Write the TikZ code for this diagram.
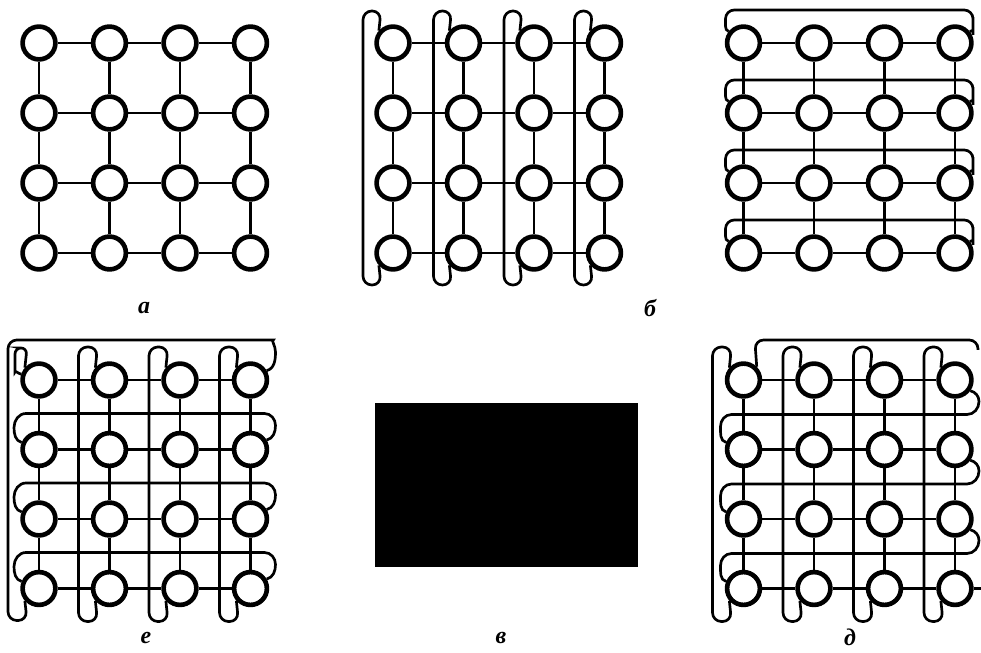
\documentclass[tikz,border=0pt]{standalone}
\usepackage{fontspec}
\setmainfont{Liberation Serif}
\usetikzlibrary{calc}

\begin{document}
\begin{tikzpicture}[
  x=0.025cm, y=0.025cm,
  cell/.style={draw, circle, line width=3.3pt, minimum size=0.82cm, inner sep=0pt},
  link/.style={line width=1.9pt},
  wire/.style={line width=1.9pt},
  tag/.style={font=\fontsize{17}{20}\selectfont\bfseries\itshape, inner sep=0pt}
]
\useasboundingbox (0,0) rectangle (981,652);
\foreach \p/\xo/\yo/\dy in {a/39/609/70, b/393/609/70, c/743.5/609/70, e/39/272/69.5, d/743.5/272/69.5} {
  \foreach \r in {0,...,3}
    \foreach \c in {0,...,3}
      \node[cell] (\p\r\c) at (\xo+70.5*\c, \yo-\dy*\r) {};
}
\foreach \p in {a,b,c,e,d}
  \foreach \r [count=\rn from 1] in {0,1,2}
    \foreach \c in {0,...,3} {
      \draw[link] (\p\r\c) -- (\p\rn\c);
      \draw[link] (\p\c\r) -- (\p\c\rn);
    }
\foreach \p/\h/\v/\cols in {b/32/30/{0,1,2,3}, d/33/31/{0,1,2,3}, e/33/31/{1,2,3}}
  \foreach \c in \cols
    \draw[wire, rounded corners=0.22cm] (\p0\c.139) -- ($(\p0\c)+(-12,\h)$) -- ($(\p0\c)+(-\v,\h)$)
      -- ($(\p3\c)+(-\v,-\h)$) -- ($(\p3\c)+(-12,-\h)$) -- (\p3\c.221);
\foreach \r in {0,...,3}
  \draw[wire] (c\r0.142) to[out=170,in=-90] ($(c\r0)+(-18,17)$) [rounded corners=0.22cm]
    -- ($(c\r0)+(-18,33)$) -- ($(c\r3)+(18,33)$) -- ($(c\r3)+(18,17)$) [sharp corners]
    to[out=-90,in=10] (c\r3.38);
\foreach \r [count=\q from 0] in {1,2,3}
  \draw[wire] (d\q3.-35) to[out=-15,in=90] ($(d\r3)+(24,48)$) to[out=-90,in=0] ($(d\r3)+(12,35)$)
    -- ($(d\r0)+(-12,35)$) to[out=180,in=90] ($(d\r0)+(-23,23)$) to[out=-90,in=165] (d\r0.158);
\coordinate (dtop) at ($(d03)+(23,30)$);
\coordinate (dout) at ($(d33)+(26,0)$);
\draw[wire, rounded corners=0.22cm] (d00.45) -- ($(d00)+(11.3,40)$) -- ($(d03)+(23,40)$) -- (dtop);
\draw[wire] (d33.east) -- (dout);
\draw[wire, rounded corners=0.22cm] (e30.221) -- ($(e30)+(-12,-32)$) -- ($(e30)+(-31,-32)$)
  -- ($(e00)+(-31,40)$) -- ($(e03)+(14,40)$) [sharp corners]
  to[out=0,in=90] ($(e03)+(25,28)$) to[out=-90,in=15] (e03.30);
\foreach \r in {1,2,3}
  \draw[wire] (e\r0.158) to[out=165,in=-90] ($(e\r0)+(-25,22)$) to[out=90,in=180] ($(e\r0)+(-13,36)$)
    -- ($(e\r3)+(14,36)$) to[out=0,in=90] ($(e\r3)+(25,24)$) to[out=-90,in=15] (e\r3.30);
\draw[wire, rounded corners=0.15cm] (e00.139) -- ($(e00)+(-12,32)$) -- ($(e00)+(-24,32)$)
  -- ($(e00)+(-24,14)$) [sharp corners] to[out=-90,in=165] (e00.162);
\fill (375,85) rectangle (638,249);
\node[tag] (la) at (144,344) {а};
\node[tag] (lb) at (650,344) {б};
\node[tag] (le) at (146,14) {е};
\node[tag] (lv) at (501,14) {в};
\node[tag] (ld) at (850,15) {д};
\end{tikzpicture}
\end{document}
